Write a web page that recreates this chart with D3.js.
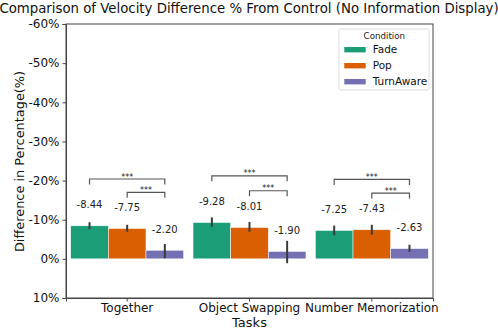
<!DOCTYPE html>
<html><head><meta charset="utf-8">
<script src="https://cdn.jsdelivr.net/npm/d3@7"></script>
<style>body{margin:0;background:#fff}svg{display:block;font-family:"DejaVu Sans",sans-serif}</style>
</head><body><svg id="c" width="498" height="329"></svg>
<script>
const tasks = ["Together", "Object Swapping", "Number Memorization"];
const conditions = ["Fade", "Pop", "TurnAware"];
const colors = ["#1b9e77", "#d95f02", "#7570b3"];
const fadeValues = [-8.44, -9.28, -7.25];
const popValues = [-7.75, -8.01, -7.43];
const turnValues = [-2.20, -1.90, -2.63];
const fadeCI = [[-9.35, -7.6], [-10.6, -8.2], [-8.5, -6.0]];
const popCI = [[-8.7, -6.95], [-9.4, -6.95], [-8.7, -6.2]];
const turnCI = [[-3.8, -0.15], [-4.6, 1.1], [-3.6, -1.8]];
const sigBig = [-20.4, -21.2, -20.3];   // Fade vs TurnAware bracket level
const sigSmall = [-17.0, -17.4, -16.8]; // Pop vs TurnAware bracket level
const yTicks = [-60, -50, -40, -30, -20, -10, 0, 10];

const series = [fadeValues, popValues, turnValues];
const cis = [fadeCI, popCI, turnCI];

const svg = d3.select("#c");
const L = 66, R = 433, T = 24, B = 298;
const x = d3.scaleBand().domain(tasks).range([L, R]).padding(0);
const inner = d3.scaleBand().domain(conditions).range([0, x.bandwidth()]).paddingInner(0).paddingOuter(0.125);
const y = d3.scaleLinear().domain([-60, 10]).range([T, B]);

// bars
tasks.forEach((t, i) => {
  conditions.forEach((c, j) => {
    const v = series[j][i];
    const bx = x(t) + inner(c);
    svg.append("rect").attr("x", bx).attr("width", inner.bandwidth())
      .attr("y", Math.min(y(v), y(0))).attr("height", Math.abs(y(v) - y(0)))
      .attr("fill", colors[j]).attr("stroke", "#fff").attr("stroke-width", 0.5);
  });
});
// error bars
tasks.forEach((t, i) => {
  conditions.forEach((c, j) => {
    const cx = x(t) + inner(c) + inner.bandwidth() / 2;
    const ci = cis[j][i];
    svg.append("line").attr("x1", cx).attr("x2", cx).attr("y1", y(ci[0])).attr("y2", y(ci[1]))
      .attr("stroke", "#3a3a3a").attr("stroke-width", 2);
  });
});
// value labels
tasks.forEach((t, i) => {
  conditions.forEach((c, j) => {
    const v = series[j][i];
    const cx = x(t) + inner(c) + inner.bandwidth() / 2;
    svg.append("text").attr("x", cx).attr("y", y(v) - 17.5)
      .attr("text-anchor", "middle").attr("font-size", 10).attr("fill", "#222").text(v.toFixed(2));
  });
});
// significance brackets
function bracket(i, a, b, level) {
  const xa = x(tasks[i]) + inner(conditions[a]) + inner.bandwidth() / 2;
  const xb = x(tasks[i]) + inner(conditions[b]) + inner.bandwidth() / 2;
  const yl = y(level), yd = yl + 5.5;
  svg.append("path").attr("d", `M${xa},${yd}V${yl}H${xb}V${yd}`)
    .attr("fill", "none").attr("stroke", "#555").attr("stroke-width", 1.2);
  svg.append("text").attr("x", (xa + xb) / 2).attr("y", yl + 0.5)
    .attr("text-anchor", "middle").attr("font-size", 8).attr("fill", "#222").text("***");
}
tasks.forEach((t, i) => { bracket(i, 0, 2, sigBig[i]); bracket(i, 1, 2, sigSmall[i]); });

// axes
const yAxis = svg.append("g").attr("transform", `translate(${L},0)`)
  .call(d3.axisLeft(y).tickValues(yTicks).tickFormat(d => d + "%").tickSizeOuter(0).tickSize(3.5));
const xAxis = svg.append("g").attr("transform", `translate(0,${B})`)
  .call(d3.axisBottom(x).tickSizeOuter(0).tickSize(3.5));
[yAxis, xAxis].forEach(g => {
  g.selectAll("text").attr("font-size", 12).attr("fill", "#111").attr("font-family", "DejaVu Sans");
  g.selectAll("line,path").attr("stroke", "#444");
});
yAxis.selectAll("text").attr("x", -6.5);
xAxis.selectAll("text").attr("y", 5.5);
// frame
svg.append("rect").attr("x", L).attr("y", T).attr("width", R - L).attr("height", B - T)
  .attr("fill", "none").attr("stroke", "#444").attr("stroke-width", 1);

// titles
svg.append("text").attr("x", 249).attr("y", 12.7).attr("text-anchor", "middle")
  .attr("font-size", 13.3).attr("fill", "#111").text("Comparison of Velocity Difference % From Control (No Information Display)");
svg.append("text").attr("transform", `translate(24,161.5) rotate(-90)`)
  .attr("text-anchor", "middle").attr("font-size", 12.9).attr("fill", "#111").text("Difference in Percentage(%)");
svg.append("text").attr("x", (L + R) / 2).attr("y", 327).attr("text-anchor", "middle")
  .attr("font-size", 13).attr("fill", "#111").text("Tasks");

// legend
const lg = svg.append("g");
lg.append("rect").attr("x", 339).attr("y", 29).attr("width", 90).attr("height", 61).attr("rx", 2)
  .attr("fill", "#fff").attr("fill-opacity", 0.8).attr("stroke", "#ddd");
lg.append("text").attr("x", 384.3).attr("y", 36).attr("dy", "0.35em").attr("text-anchor", "middle")
  .attr("font-size", 8.7).attr("fill", "#222").text("Condition");
conditions.forEach((c, j) => {
  const ly = 49.7 + j * 16;
  lg.append("rect").attr("x", 344.3).attr("y", ly - 2.7).attr("width", 21.4).attr("height", 5.4).attr("fill", colors[j]);
  lg.append("text").attr("x", 372.7).attr("y", ly).attr("dy", "0.35em").attr("font-size", 10.5)
    .attr("fill", "#111").text(c);
});
</script></body></html>
